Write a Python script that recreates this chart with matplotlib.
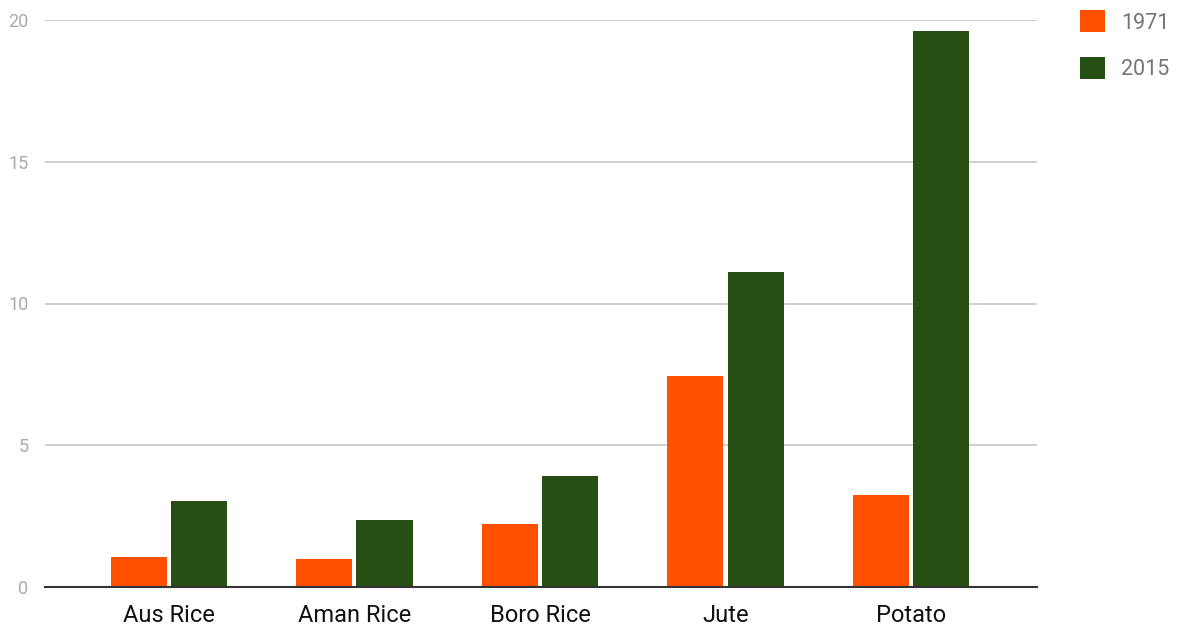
import matplotlib.pyplot as plt
import numpy as np

crops = ['Aus Rice', 'Aman Rice', 'Boro Rice', 'Jute', 'Potato']
y1971 = [1.06, 0.99, 2.22, 7.44, 3.25]
y2015 = [3.03, 2.36, 3.92, 11.11, 19.61]
yticks = [0, 5, 10, 15, 20]

plt.rcParams['font.family'] = ['Roboto', 'DejaVu Sans']

fig = plt.figure(figsize=(11.77, 6.28), dpi=100)
ax = fig.add_axes([45 / 1177, 41 / 628, 992 / 1177, 567 / 628])

x = np.arange(len(crops))
w = 0.302
ax.bar(x - 0.162, y1971, width=w, color='#ff5000', label='1971', zorder=3)
ax.bar(x + 0.162, y2015, width=w, color='#274e13', label='2015', zorder=3)

ax.set_xlim(-0.668, 4.679)
ax.set_ylim(0, 20)
ax.set_yticks(yticks)
ax.set_yticklabels([str(v) for v in yticks], color='#aaaaaa', fontsize=13)
ax.set_xticks(x)
ax.set_xticklabels(crops, fontsize=17, color='#111111')
ax.tick_params(axis='both', length=0)
ax.tick_params(axis='y', pad=12)
ax.tick_params(axis='x', pad=12)
ax.grid(axis='y', color='#cccccc', linewidth=1.3, zorder=0)
for s in ['top', 'right', 'left']:
    ax.spines[s].set_visible(False)
ax.spines['bottom'].set_color('#333333')
ax.spines['bottom'].set_linewidth(1.5)
ax.spines['bottom'].set_zorder(4)

leg = ax.legend(loc='upper left', bbox_to_anchor=(1.035, 1.032), frameon=False,
                fontsize=15.5, handlelength=1.16, handleheight=1.16, labelspacing=1.1,
                handletextpad=0.75, borderaxespad=0)
for t in leg.get_texts():
    t.set_color('#757575')

fig.savefig('out.png', dpi=100)
